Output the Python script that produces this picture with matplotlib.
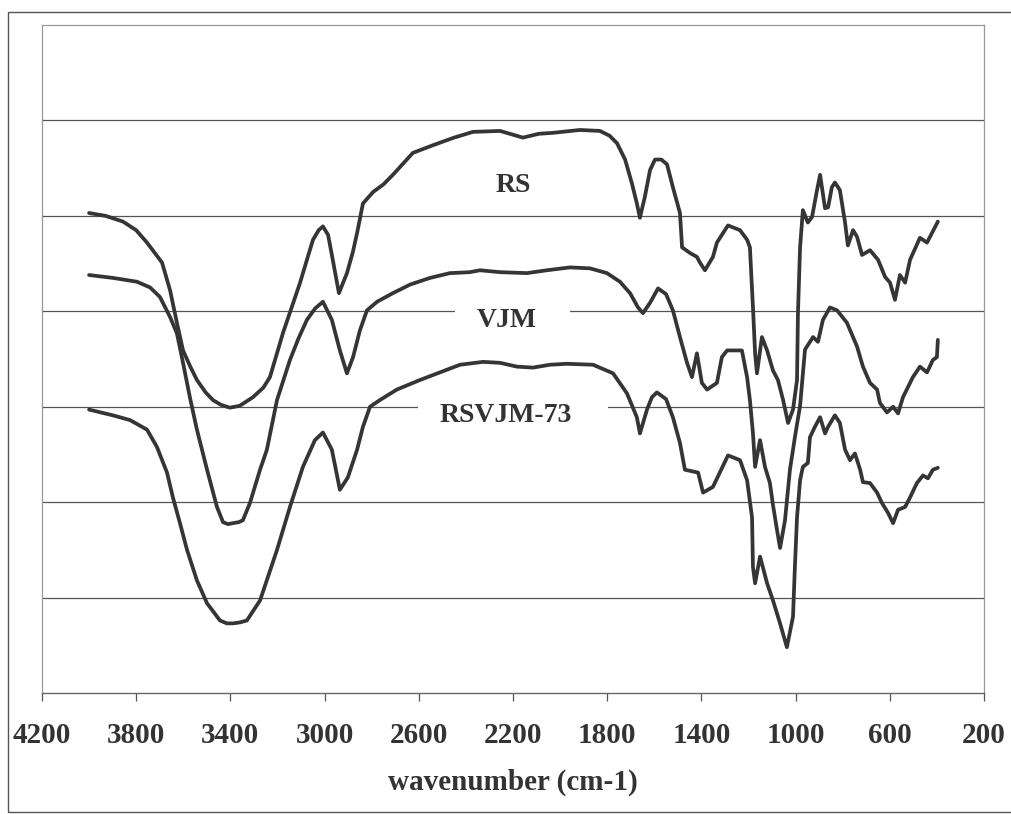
import matplotlib
matplotlib.use("Agg")
import matplotlib.pyplot as plt
from matplotlib.patches import Rectangle

# FTIR spectra (wavenumber in cm-1, offset transmittance in grid units)
rs_wn = [4000, 3930, 3856, 3800, 3754, 3690, 3656, 3627, 3601, 3570, 3542, 3505, 3474, 3440,
         3402, 3360, 3304, 3260, 3232, 3177, 3104, 3070, 3049, 3025, 3007, 2985, 2969, 2939,
         2905, 2880, 2862, 2837, 2794, 2750, 2710, 2625, 2540, 2450, 2370, 2255, 2158, 2090,
         2030, 1916, 1831, 1790, 1758, 1724, 1695, 1674, 1661, 1640, 1618, 1597, 1570, 1546,
         1521, 1491, 1482, 1448, 1419, 1406, 1385, 1351, 1334, 1308, 1287, 1236, 1206, 1194,
         1181, 1172, 1164, 1143, 1121, 1096, 1075, 1053, 1032, 1011, 994, 990, 981, 969, 948,
         930, 909, 896, 875, 862, 846, 833, 812, 790, 778, 756, 739, 718, 684, 650, 620, 599,
         578, 557, 535, 514, 472, 442, 421, 396]
rs_t = [5.03, 5.00, 4.94, 4.85, 4.72, 4.51, 4.22, 3.88, 3.59, 3.42, 3.28, 3.15, 3.07, 3.02,
        2.99, 3.01, 3.10, 3.20, 3.31, 3.77, 4.30, 4.58, 4.75, 4.85, 4.89, 4.80, 4.59, 4.19,
        4.40, 4.62, 4.82, 5.13, 5.25, 5.33, 5.43, 5.66, 5.74, 5.82, 5.88, 5.89, 5.82, 5.86,
        5.87, 5.90, 5.89, 5.84, 5.76, 5.59, 5.34, 5.13, 4.98, 5.20, 5.48, 5.59, 5.59, 5.54,
        5.30, 5.03, 4.67, 4.61, 4.57, 4.51, 4.43, 4.57, 4.72, 4.82, 4.90, 4.85, 4.75, 4.67,
        4.04, 3.56, 3.35, 3.73, 3.59, 3.38, 3.28, 3.07, 2.83, 2.97, 3.28, 3.98, 4.67, 5.06,
        4.93, 4.99, 5.27, 5.43, 5.08, 5.09, 5.30, 5.35, 5.27, 4.93, 4.69, 4.85, 4.78, 4.59,
        4.64, 4.54, 4.36, 4.30, 4.12, 4.38, 4.30, 4.54, 4.77, 4.72, 4.82, 4.94]

vjm_wn = [4000, 3899, 3797, 3741, 3699, 3656, 3627, 3601, 3572, 3542, 3499, 3457, 3431, 3410,
          3389, 3365, 3347, 3317, 3274, 3245, 3202, 3147, 3110, 3075, 3040, 3007, 2969, 2935,
          2905, 2879, 2850, 2820, 2777, 2710, 2637, 2552, 2468, 2383, 2340, 2255, 2141, 2056,
          1958, 1873, 1801, 1746, 1703, 1669, 1648, 1618, 1584, 1550, 1521, 1491, 1461, 1440,
          1419, 1398, 1376, 1334, 1313, 1291, 1228, 1206, 1194, 1181, 1172, 1151, 1130, 1109,
          1096, 1079, 1066, 1045, 1024, 1003, 981, 960, 926, 905, 884, 854, 824, 782, 739,
          714, 684, 654, 642, 612, 586, 565, 544, 502, 472, 442, 417, 400, 396]
vjm_t = [4.38, 4.35, 4.31, 4.25, 4.15, 3.94, 3.77, 3.46, 3.10, 2.76, 2.34, 1.95, 1.79, 1.77,
         1.78, 1.79, 1.81, 1.99, 2.34, 2.55, 3.07, 3.49, 3.72, 3.91, 4.03, 4.10, 3.91, 3.59,
         3.35, 3.52, 3.80, 4.01, 4.10, 4.19, 4.28, 4.35, 4.40, 4.41, 4.43, 4.41, 4.40, 4.43,
         4.46, 4.45, 4.40, 4.31, 4.19, 4.04, 3.98, 4.09, 4.24, 4.18, 4.01, 3.73, 3.46, 3.31,
         3.56, 3.25, 3.18, 3.25, 3.52, 3.59, 3.59, 3.31, 3.07, 2.72, 2.37, 2.65, 2.37, 2.20,
         1.97, 1.71, 1.52, 1.81, 2.34, 2.68, 3.01, 3.60, 3.73, 3.68, 3.91, 4.04, 4.01, 3.88,
         3.63, 3.42, 3.25, 3.18, 3.04, 2.94, 3.00, 2.93, 3.10, 3.31, 3.42, 3.36, 3.49, 3.52,
         3.70]

blend_wn = [4000, 3899, 3826, 3754, 3712, 3669, 3644, 3614, 3584, 3542, 3499, 3444, 3415, 3389,
            3360, 3330, 3274, 3202, 3147, 3092, 3041, 3007, 2969, 2935, 2901, 2862, 2837, 2807,
            2765, 2693, 2595, 2510, 2425, 2327, 2255, 2183, 2115, 2043, 1971, 1860, 1775, 1716,
            1674, 1661, 1631, 1610, 1589, 1550, 1521, 1491, 1470, 1414, 1393, 1351, 1287, 1236,
            1206, 1185, 1181, 1172, 1151, 1121, 1096, 1066, 1037, 1011, 1003, 994, 981, 969,
            948, 939, 918, 896, 875, 862, 833, 812, 790, 769, 748, 726, 714, 684, 654, 633, 608,
            586, 565, 535, 514, 485, 459, 438, 417, 396]
blend_t = [2.97, 2.91, 2.86, 2.76, 2.58, 2.31, 2.05, 1.78, 1.50, 1.18, 0.94, 0.76, 0.73, 0.73,
           0.74, 0.76, 0.97, 1.50, 1.95, 2.37, 2.65, 2.73, 2.55, 2.13, 2.26, 2.55, 2.79, 3.00,
           3.07, 3.18, 3.28, 3.36, 3.44, 3.47, 3.46, 3.42, 3.41, 3.44, 3.45, 3.44, 3.35, 3.14,
           2.89, 2.72, 2.97, 3.10, 3.15, 3.08, 2.89, 2.62, 2.34, 2.31, 2.10, 2.16, 2.49, 2.44,
           2.23, 1.84, 1.32, 1.15, 1.43, 1.15, 0.97, 0.73, 0.48, 0.80, 1.32, 1.84, 2.23, 2.37,
           2.41, 2.68, 2.79, 2.89, 2.72, 2.79, 2.91, 2.83, 2.55, 2.44, 2.51, 2.34, 2.21, 2.20,
           2.10, 1.99, 1.89, 1.78, 1.92, 1.95, 2.05, 2.20, 2.28, 2.25, 2.34, 2.36]

series_names = ["RS", "VJM", "RSVJM-73"]
x_ticks = [4200, 3800, 3400, 3000, 2600, 2200, 1800, 1400, 1000, 600, 200]
x_title = "wavenumber (cm-1)"

plt.rcParams["font.family"] = ["Liberation Serif", "DejaVu Serif"]
plt.rcParams["font.weight"] = "bold"

fig = plt.figure(figsize=(10.11, 8.14), dpi=100)
fig.patch.set_facecolor("white")

# outer chart frame
fig.add_artist(Rectangle((0.0079, 0.0025), 1.2, 0.9828, transform=fig.transFigure,
                         fill=False, edgecolor="#555555", linewidth=1.0))

ax = fig.add_axes([0.0415, 0.1486, 0.9318, 0.8207])
ax.set_xlim(4200, 200)
ax.set_ylim(0, 7)

# horizontal gridlines
for g in range(1, 7):
    ax.axhline(g, color="#555555", linewidth=0.9, zorder=1)

line_kw = dict(color="#353535", linewidth=2.7, zorder=4,
               solid_joinstyle="round", solid_capstyle="round")
ax.plot(rs_wn, rs_t, **line_kw)
ax.plot(vjm_wn, vjm_t, **line_kw)
ax.plot(blend_wn, blend_t, **line_kw)

# series labels with white boxes interrupting the gridlines
ax.add_patch(Rectangle((2446, 3.77), 1958 - 2446, 0.35, facecolor="white",
                       edgecolor="none", zorder=2))
ax.add_patch(Rectangle((2603, 2.80), 1797 - 2603, 0.29, facecolor="white",
                       edgecolor="none", zorder=2))
lab_kw = dict(fontsize=20, fontweight="bold", color="#333333", ha="center",
              va="baseline", zorder=3)
ax.text(2200, 5.25, series_names[0], **lab_kw)
ax.text(2226, 3.84, series_names[1], **lab_kw)
ax.text(2230, 2.84, series_names[2], **lab_kw)

ax.set_xticks(x_ticks)
ax.set_xticklabels([str(t) for t in x_ticks])
ax.set_yticks([])
ax.tick_params(axis="x", direction="out", length=6, width=0.9, color="#555555",
               labelsize=21, labelcolor="#333333", pad=15)
for lab in ax.get_xticklabels():
    lab.set_fontweight("bold")

for side in ["top", "right", "left"]:
    ax.spines[side].set_color("#999999")
    ax.spines[side].set_linewidth(0.9)
ax.spines["bottom"].set_color("#666666")
ax.spines["bottom"].set_linewidth(1.0)

ax.set_xlabel(x_title, fontsize=21, fontweight="bold", color="#333333", labelpad=14)

fig.savefig("out.png", dpi=100, facecolor="white")
